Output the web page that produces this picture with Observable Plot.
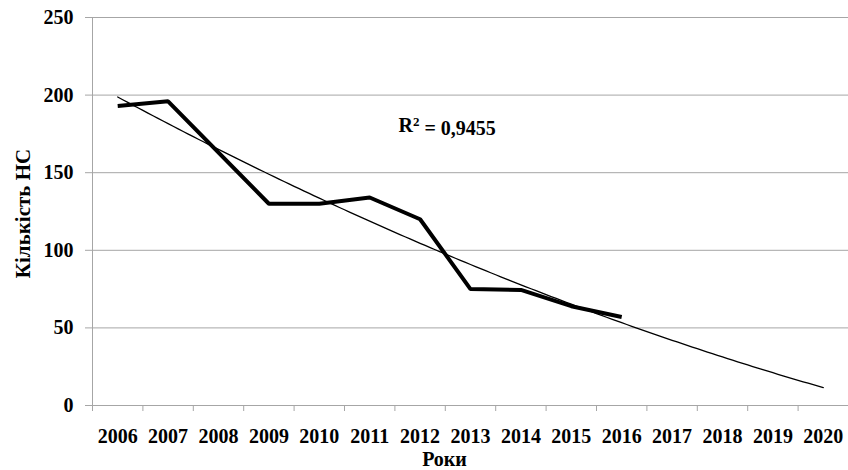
<!DOCTYPE html>
<html>
<head>
<meta charset="utf-8">
<script src="https://cdn.jsdelivr.net/npm/d3@7"></script>
<script src="https://cdn.jsdelivr.net/npm/@observablehq/plot@0.6"></script>
<style>
  html, body { margin: 0; padding: 0; background: #fff; }
  #chart svg { display: block; }
</style>
</head>
<body>
<div id="chart"></div>
<script>
// Categories (x axis tick labels)
const years = [2006, 2007, 2008, 2009, 2010, 2011, 2012, 2013, 2014, 2015, 2016, 2017, 2018, 2019, 2020];
// Observed series (2008 not plotted)
const nsYears = [2006, 2007, 2009, 2010, 2011, 2012, 2013, 2014, 2015, 2016];
const nsValues = [193, 196, 130, 130, 134, 120, 75, 74.5, 64, 57];
// Y ticks
const yTicks = [0, 50, 100, 150, 200, 250];
const r2Text = "R2 = 0,9455";
const yTitle = "Кількість НС";
const xTitle = "Роки";

const series = nsYears.map((y, i) => ({year: y, value: nsValues[i]}));
const boundaries = years.map(y => y - 0.5).concat([years[years.length - 1] + 0.5]);

// Polynomial (order 2) least-squares trend of the observed series, forecast to the last category
function quadFit(xs, ys) {
  const x0 = xs[0];
  const S = [0, 0, 0, 0, 0], T = [0, 0, 0];
  xs.forEach((x, i) => {
    const s = x - x0;
    for (let k = 0; k < 5; k++) S[k] += Math.pow(s, k);
    for (let k = 0; k < 3; k++) T[k] += Math.pow(s, k) * ys[i];
  });
  const M = [[S[0], S[1], S[2], T[0]], [S[1], S[2], S[3], T[1]], [S[2], S[3], S[4], T[2]]];
  for (let i = 0; i < 3; i++) {
    for (let j = i + 1; j < 3; j++) {
      const f = M[j][i] / M[i][i];
      for (let k = i; k < 4; k++) M[j][k] -= f * M[i][k];
    }
  }
  const c = [0, 0, 0];
  for (let i = 2; i >= 0; i--) {
    let v = M[i][3];
    for (let k = i + 1; k < 3; k++) v -= M[i][k] * c[k];
    c[i] = v / M[i][i];
  }
  return x => { const s = x - x0; return c[0] + c[1] * s + c[2] * s * s; };
}
const f = quadFit(nsYears, nsValues);
const tStart = years[0], tEnd = years[years.length - 1];
const trend = d3.range(0, 141).map(i => tStart + (tEnd - tStart) * i / 140).map(x => ({year: x, value: f(x)}));

const gray = "#a6a6a6";

const chart = Plot.plot({
  width: 848,
  height: 470,
  marginLeft: 92,
  marginRight: 0,
  marginTop: 17,
  marginBottom: 65,
  style: {fontFamily: "'Liberation Serif', 'Times New Roman', serif", fontSize: "20px", fontWeight: "bold", background: "#fff", overflow: "visible"},
  x: {type: "linear", domain: [boundaries[0], boundaries[boundaries.length - 1]]},
  y: {domain: [0, 250]},
  marks: [
    Plot.gridY({ticks: yTicks, stroke: gray, strokeOpacity: 1, strokeWidth: 1}),
    Plot.ruleX([boundaries[0]], {stroke: gray, strokeWidth: 1}),
    Plot.axisY({ticks: yTicks, tickSize: 7, tickPadding: 12, stroke: gray, strokeOpacity: 1, fill: "#000", label: null}),
    Plot.axisX({ticks: boundaries, tickSize: 6, stroke: gray, strokeOpacity: 1, tickFormat: () => "", label: null}),
    Plot.axisX({ticks: years, tickSize: 0, tickPadding: 23, tickFormat: d => String(d), fill: "#000", label: null}),
    Plot.line(trend, {x: "year", y: "value", stroke: "#000", strokeWidth: 1.3}),
    Plot.line(series, {x: "year", y: "value", stroke: "#000", strokeWidth: 4, strokeLinejoin: "miter", strokeLinecap: "butt"}),
    Plot.text([r2Text], {frameAnchor: "top-left", text: d => d, dx: 306, dy: 108, textAnchor: "start", lineAnchor: "middle", fill: "#000", className: "r2label"}),
    Plot.text([yTitle], {frameAnchor: "left", text: d => d, dx: -69, dy: 2, rotate: -90, textAnchor: "middle", lineAnchor: "middle", fill: "#000", fontSize: 21}),
    Plot.text([xTitle], {frameAnchor: "bottom", text: d => d, dx: -26, dy: 54, textAnchor: "middle", lineAnchor: "middle", fill: "#000"})
  ]
});
// Superscript the "2" of R2
d3.select(chart).selectAll(".r2label text").each(function() {
  const t = d3.select(this);
  const s = t.text();
  t.text(null);
  t.append("tspan").text(s.slice(0, 1));
  t.append("tspan").attr("dy", "-0.45em").attr("font-size", "13px").text(s.slice(1, 2));
  t.append("tspan").attr("dy", "0.45em").text(s.slice(2));
});
document.getElementById("chart").appendChild(chart);
</script>
</body>
</html>
